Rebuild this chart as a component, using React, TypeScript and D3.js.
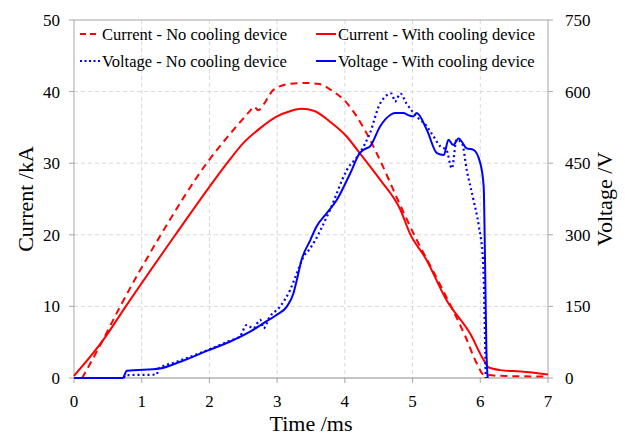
import React from "react";
import * as d3 from "d3";

// ---- Data ----
const timeTicks = [0, 1, 2, 3, 4, 5, 6, 7];
const currentTicks = [0, 10, 20, 30, 40, 50];
const voltageTicks = [0, 150, 300, 450, 600, 750];

const legendLabels = [
  "Current - No cooling device",
  "Current - With cooling device",
  "Voltage - No cooling device",
  "Voltage - With cooling device",
];

const iNoT = [0.12, 0.41, 0.66, 1.27, 1.96, 2.35, 2.6, 2.66, 2.72, 2.8, 2.94, 3.19, 3.4, 3.6, 3.8, 4.03, 4.32, 4.52, 4.8, 5.06, 5.3, 5.5, 5.78, 5.95, 6.05, 6.3, 7.0];
const iNoV = [0, 5.0, 9.6, 19.8, 30.0, 34.6, 37.3, 37.9, 37.4, 38.2, 40.2, 41.1, 41.2, 41.1, 40.2, 38.4, 34.2, 30.4, 24.5, 19.3, 15.0, 11.3, 5.8, 2.0, 0.5, 0.3, 0.2];

const iWithT = [0, 0.1, 0.43, 0.75, 1.49, 2.0, 2.3, 2.5, 2.75, 2.99, 3.2, 3.36, 3.55, 3.78, 4.03, 4.22, 4.52, 4.82, 4.96, 5.2, 5.5, 5.85, 6.05, 6.12, 6.3, 6.6, 7.0];
const iWithV = [0.3, 1.4, 5.3, 9.8, 19.9, 26.7, 30.5, 32.8, 34.9, 36.5, 37.3, 37.6, 37.3, 35.8, 33.7, 31.4, 27.7, 23.5, 20.2, 16.6, 10.9, 6.2, 2.5, 1.5, 1.1, 0.9, 0.5];

const vNoT = [0, 0.73, 0.76, 1.22, 1.25, 1.5, 2.0, 2.3, 2.45, 2.55, 2.65, 2.75, 2.8, 2.89, 3.04, 3.19, 3.29, 3.39, 3.49, 3.78, 4.03, 4.22, 4.37, 4.52, 4.69, 4.74, 4.82, 4.91, 5.06, 5.21, 5.31, 5.41, 5.5, 5.58, 5.65, 5.73, 5.8, 5.9, 5.98, 6.04, 6.08];
const vNoV = [0, 0, 6, 7, 20, 33, 60, 78, 87, 111, 104, 122, 104, 128, 149, 184, 219, 254, 272, 352, 436, 471, 513, 575, 596, 579, 596, 575, 548, 527, 506, 485, 478, 439, 499, 492, 436, 373, 317, 247, 0];

const vWithT = [0, 0.72, 0.78, 1.27, 1.57, 2.0, 2.3, 2.6, 2.8, 2.99, 3.14, 3.24, 3.29, 3.36, 3.49, 3.58, 3.73, 3.88, 4.08, 4.22, 4.3, 4.37, 4.52, 4.67, 4.74, 4.86, 4.95, 5.01, 5.06, 5.21, 5.36, 5.46, 5.53, 5.6, 5.68, 5.8, 5.9, 6.0, 6.05, 6.07, 6.09, 6.11];
const vWithV = [0, 0, 15, 20, 34, 59, 76, 97, 115, 132, 149, 177, 205, 247, 289, 317, 345, 373, 429, 471, 480, 485, 527, 551, 555, 555, 550, 548, 555, 520, 471, 467, 499, 488, 502, 481, 478, 450, 401, 247, 60, 0];

const W = 625;
const H = 435;
const L = 74, R = 548, T = 20, B = 378;

export default function App() {
  const x = d3.scaleLinear().domain([0, 7]).range([L, R]);
  const yI = d3.scaleLinear().domain([0, 50]).range([B, T]);
  const yV = d3.scaleLinear().domain([0, 750]).range([B, T]);

  const mk = (ts: number[], vs: number[], y: d3.ScaleLinear<number, number>) =>
    d3
      .line<number>()
      .x((_, i) => x(ts[i]))
      .y((d) => y(d))
      .curve(d3.curveMonotoneX)(vs) as string;

  const font = "'Liberation Serif', serif";
  const ts = { fontFamily: font };
  const gridColor = "#d9d9d9";
  const axisColor = "#a6a6a6";

  const legend = [
    { label: legendLabels[0], color: "#ff0000", dash: "6,4", x: 80, y: 34 },
    { label: legendLabels[1], color: "#ff0000", dash: "", x: 316, y: 34 },
    { label: legendLabels[2], color: "#0000ff", dash: "2,2.5", x: 80, y: 61 },
    { label: legendLabels[3], color: "#0000ff", dash: "", x: 316, y: 61 },
  ];

  return (
    <svg width={W} height={H} style={{ position: "absolute", left: 0, top: 0, background: "#fff", fontFamily: font }}>
      {/* grid */}
      {timeTicks.slice(1, -1).map((t) => (
        <line key={"gx" + t} x1={x(t)} x2={x(t)} y1={T} y2={B} stroke={gridColor} strokeDasharray="4,3" strokeWidth={1} />
      ))}
      {currentTicks.slice(1, -1).map((v) => (
        <line key={"gy" + v} x1={L} x2={R} y1={yI(v)} y2={yI(v)} stroke={gridColor} strokeDasharray="4,3" strokeWidth={1} />
      ))}
      {/* frame */}
      <line x1={L} x2={R} y1={T} y2={T} stroke={axisColor} />
      <line x1={L} x2={L} y1={T} y2={B} stroke={axisColor} />
      <line x1={R} x2={R} y1={T} y2={B} stroke={axisColor} />
      <line x1={L} x2={R} y1={B} y2={B} stroke="#8c8c8c" />
      {/* ticks */}
      {currentTicks.map((v) => (
        <g key={"ti" + v}>
          <line x1={L - 5} x2={L} y1={yI(v)} y2={yI(v)} stroke={axisColor} />
          <text style={ts} x={L - 14} y={yI(v) + 6} textAnchor="end" fontSize={17} fill="#000">{v}</text>
        </g>
      ))}
      {voltageTicks.map((v) => (
        <g key={"tv" + v}>
          <line x1={R} x2={R + 5} y1={yV(v)} y2={yV(v)} stroke={axisColor} />
          <text style={ts} x={R + 17} y={yV(v) + 6} textAnchor="start" fontSize={17} fill="#000">{v}</text>
        </g>
      ))}
      {timeTicks.map((t) => (
        <g key={"tt" + t}>
          <line x1={x(t)} x2={x(t)} y1={B} y2={B + 5} stroke={axisColor} />
          <text style={ts} x={x(t)} y={B + 29} textAnchor="middle" fontSize={17} fill="#000">{t}</text>
        </g>
      ))}
      {/* axis titles */}
      <text style={ts} x={(L + R) / 2} y={431} textAnchor="middle" fontSize={22} fill="#000">Time /ms</text>
      <text style={ts} transform={`translate(33,${(T + B) / 2}) rotate(-90)`} textAnchor="middle" fontSize={22} fill="#000">Current /kA</text>
      <text style={ts} transform={`translate(612,${(T + B) / 2}) rotate(-90)`} textAnchor="middle" fontSize={22} fill="#000">Voltage /V</text>
      {/* series */}
      <path d={mk(iNoT, iNoV, yI)} fill="none" stroke="#ff0000" strokeWidth={2} strokeDasharray="7,5" />
      <path d={mk(iWithT, iWithV, yI)} fill="none" stroke="#ff0000" strokeWidth={2} />
      <path d={mk(vNoT, vNoV, yV)} fill="none" stroke="#0000ff" strokeWidth={2.2} strokeDasharray="2,3" />
      <path d={mk(vWithT, vWithV, yV)} fill="none" stroke="#0000ff" strokeWidth={2} />
      {/* legend */}
      {legend.map((d) => (
        <g key={d.label}>
          <line x1={d.x} x2={d.x + 20} y1={d.y} y2={d.y} stroke={d.color} strokeWidth={2} strokeDasharray={d.dash || undefined} />
          <text style={ts} x={d.x + 22} y={d.y + 6} fontSize={16.5} fill="#000">{d.label}</text>
        </g>
      ))}
    </svg>
  );
}
